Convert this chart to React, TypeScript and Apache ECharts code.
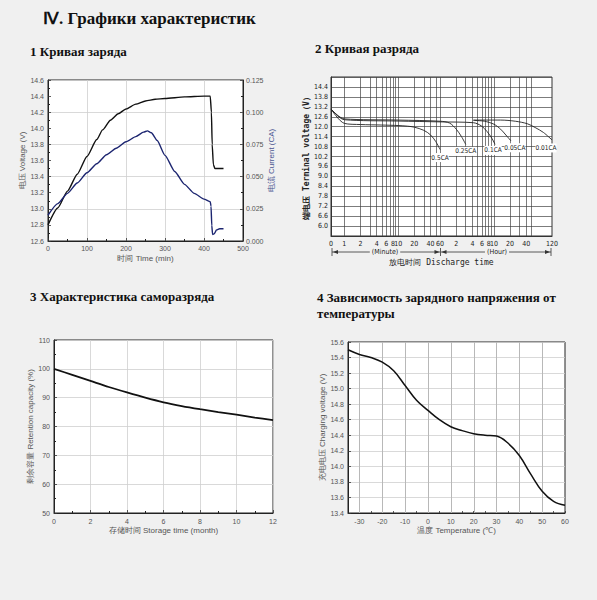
import { useEffect, useRef } from "react";
import * as echarts from "echarts";

// ---------- Chart 1: charge curve ----------
const chargeVoltage: [number, number][] = [
  [0, 12.8], [25, 13.01], [50, 13.22], [75, 13.43], [100, 13.65], [125, 13.86], [140, 13.98],
  [160, 14.1], [180, 14.18], [200, 14.24], [225, 14.3], [250, 14.34], [275, 14.36], [300, 14.37],
  [350, 14.39], [400, 14.4], [416, 14.4], [419, 14.2], [421, 13.8], [424, 13.55], [428, 13.5], [450, 13.5],
];
const chargeCurrent: [number, number][] = [
  [0, 0.02], [25, 0.029], [50, 0.037], [75, 0.045], [100, 0.053], [125, 0.06], [150, 0.067],
  [175, 0.072], [200, 0.077], [225, 0.081], [245, 0.0845], [255, 0.0855], [265, 0.084], [280, 0.078],
  [300, 0.0665], [325, 0.054], [350, 0.044], [375, 0.037], [400, 0.0325], [416, 0.0305], [418, 0.027],
  [420, 0.012], [422, 0.005], [426, 0.0055], [432, 0.0085], [440, 0.0095], [450, 0.0095],
];

// ---------- Chart 2: discharge curves (time in minutes) ----------
const dischargeRates = ["0.5CA", "0.25CA", "0.1CA", "0.05CA", "0.01CA"];
const discharge05: [number, number][] = [
  [0.566, 13.07], [1, 12.2], [2, 12.13], [5, 12.1], [10, 12.07], [15, 12.03], [20, 11.97],
  [30, 11.78], [40, 11.5], [50, 11.1], [60, 10.62],
];
const discharge025: [number, number][] = [
  [0.566, 13.07], [1, 12.47], [10, 12.4], [60, 12.33], [90, 12.22], [120, 11.85], [150, 11.4], [180, 10.93],
];
const discharge01: [number, number][] = [
  [0.566, 13.07], [1, 12.42], [10, 12.34], [60, 12.29], [250, 12.24], [350, 12.05], [450, 11.7],
  [550, 11.3], [630, 10.93],
];
const discharge005: [number, number][] = [
  [250, 12.38], [400, 12.33], [600, 12.15], [800, 11.85], [1000, 11.5], [1240, 11.15],
];
const discharge001: [number, number][] = [
  [250, 12.4], [800, 12.4], [1500, 12.33], [2500, 12.18], [3500, 11.95], [5000, 11.65], [7200, 11.2],
];
const dischargeSeries = [discharge05, discharge025, discharge01, discharge005, discharge001];
const dischargeGridMinutes = [
  1, 2, 3, 4, 5, 6, 7, 8, 9, 10, 20, 30, 40, 50, 60,
  120, 180, 240, 300, 360, 420, 480, 540, 600, 1200, 1800, 2400, 3000,
];
const dischargeLabelMinutes = [0.566, 1, 2, 4, 6, 8, 10, 20, 40, 60, 120, 240, 360, 480, 600, 1200, 2400, 7200];

// ---------- Chart 3: self-discharge ----------
const storageMonths = [0, 1, 2, 3, 4, 5, 6, 7, 8, 9, 10, 11, 12];
const retentionCapacity = [100, 97.9, 95.8, 93.7, 91.8, 90.0, 88.4, 87.1, 86.0, 85.0, 84.1, 83.1, 82.2];

// ---------- Chart 4: charging voltage vs temperature ----------
const temperatures = [-35, -30, -25, -20, -15, -10, -5, 0, 5, 10, 15, 20, 25, 30, 35, 40, 45, 50, 55, 60];
const chargingVoltage = [
  15.5, 15.44, 15.4, 15.34, 15.23, 15.04, 14.85, 14.72, 14.6, 14.51, 14.46, 14.42, 14.4, 14.39,
  14.3, 14.14, 13.9, 13.68, 13.55, 13.5,
];
const temperatureGridLines = [-30, -20, -10, 0, 10, 20, 30, 40, 50];
const voltageMin = 13.4;
const voltageMax = 15.6;

const SANS = '"Liberation Sans", Arial, sans-serif';
const NARROW = '"DejaVu Sans Condensed", "Liberation Sans Narrow", "DejaVu Sans", sans-serif';
const SERIF = '"Liberation Serif", "Times New Roman", serif';
const BG = "#f0f0f0";

const lbl = { fontFamily: SANS, fontSize: 7, color: "#555" };
const nameStyle = { fontFamily: SANS, fontSize: 8, color: "#555" };
const tickStyle = { inside: true, length: 3, lineStyle: { color: "#333", width: 0.8 } };
const lightSplit = { show: true, lineStyle: { color: "#cfcfcf", width: 0.8 } };
const boxLine = { show: true, onZero: false, lineStyle: { color: "#222", width: 1 } };

export default function App() {
  const ref = useRef<HTMLDivElement>(null);
  useEffect(() => {
    if (!ref.current) return;
    const chart = echarts.init(ref.current, undefined, { renderer: "svg" });
    const title = (text: string, x: number, y: number, size = 13) => ({
      type: "text",
      left: x,
      top: y,
      style: { text, font: `bold ${size}px ${SERIF}`, fill: "#111" },
    });
    const hline = (x1: number, x2: number, y: number) => ({
      type: "line",
      shape: { x1, y1: y, x2, y2: y },
      style: { stroke: "#333", lineWidth: 0.8 },
    });
    const vline = (x: number, y: number) => ({
      type: "line",
      shape: { x1: x, y1: y - 4, x2: x, y2: y + 4 },
      style: { stroke: "#333", lineWidth: 0.8 },
    });
    const arrow = (x: number, y: number, dir: number) => ({
      type: "polygon",
      shape: { points: [[x, y], [x + 5 * dir, y - 2], [x + 5 * dir, y + 2]] },
      style: { fill: "#333" },
    });
    const ay = 252;

    const dischargeLabelOffsets: [number, number][] = [[0, 3], [0, 2], [-2, 1], [4, 2], [-6, 3]];

    chart.setOption({
      animation: false,
      backgroundColor: BG,
      textStyle: { fontFamily: SANS },
      grid: [
        { left: 48, top: 80, width: 195, height: 161, show: true, backgroundColor: "#fff", borderColor: "#222", borderWidth: 1, outerBoundsMode: "none" },
        { left: 331, top: 77, width: 221, height: 159, show: true, backgroundColor: "#fff", borderColor: "#333", borderWidth: 1, outerBoundsMode: "none" },
        { left: 54, top: 340, width: 219, height: 173, show: true, backgroundColor: "#fff", borderColor: "#222", borderWidth: 1, outerBoundsMode: "none" },
        { left: 348, top: 342, width: 217, height: 171, show: true, backgroundColor: "#fff", borderColor: "#222", borderWidth: 1, outerBoundsMode: "none" },
      ],
      xAxis: [
        {
          gridIndex: 0, type: "value", min: 0, max: 500, interval: 100,
          axisLine: boxLine, axisTick: tickStyle, minorTick: { show: true, splitNumber: 2, length: 2 },
          axisLabel: { ...lbl, margin: 4 }, splitLine: lightSplit,
          name: "时间 Time (min)", nameLocation: "middle", nameGap: 13, nameTextStyle: nameStyle,
        },
        {
          gridIndex: 1, type: "log", logBase: 10, min: 0.566, max: 7200,
          axisLine: { show: true, onZero: false, lineStyle: { color: "#333", width: 1 } },
          axisTick: { show: false, customValues: dischargeGridMinutes },
          axisLabel: {
            customValues: dischargeLabelMinutes,
            fontFamily: NARROW, fontSize: 7, color: "#222", margin: 4,
            formatter: (v: number) => (v < 0.9 ? "0" : v <= 60 ? String(Math.round(v)) : String(Math.round(v / 60))),
          },
          splitLine: { show: true, lineStyle: { color: "#444", width: 0.7 } },
          name: "放电时间 Discharge time", nameLocation: "middle", nameGap: 22,
          nameTextStyle: { fontFamily: '"DejaVu Sans Mono", monospace', fontSize: 8, color: "#222" },
        },
        {
          gridIndex: 2, type: "value", min: 0, max: 12, interval: 2,
          axisLine: boxLine, axisTick: tickStyle, minorTick: { show: true, splitNumber: 2, length: 2 },
          axisLabel: { ...lbl, margin: 5 }, splitLine: lightSplit,
          name: "存储时间 Storage time (month)", nameLocation: "middle", nameGap: 13, nameTextStyle: nameStyle,
        },
        {
          gridIndex: 3, type: "value", min: -35, max: 60, interval: 5,
          axisLine: boxLine,
          axisTick: { ...tickStyle, length: 2 },
          axisLabel: {
            ...lbl, margin: 5, showMinLabel: false,
            formatter: (v: number) => (Math.round(v) % 10 === 0 ? String(Math.round(v)) : ""),
          },
          splitLine: { show: false },
          name: "温度 Temperature (℃)", nameLocation: "middle", nameGap: 13, nameTextStyle: nameStyle,
        },
      ],
      yAxis: [
        {
          gridIndex: 0, type: "value", min: 12.6, max: 14.6, interval: 0.2,
          axisLine: boxLine, axisTick: tickStyle, minorTick: { show: true, splitNumber: 2, length: 2 },
          axisLabel: { ...lbl, margin: 4, formatter: (v: number) => v.toFixed(1) }, splitLine: { show: false },
          name: "电压 Voltage (V)", nameLocation: "middle", nameRotate: 90, nameGap: 17, nameTextStyle: nameStyle,
        },
        {
          gridIndex: 0, type: "value", position: "right", min: 0, max: 0.125, interval: 0.025,
          axisLine: boxLine, axisTick: tickStyle, minorTick: { show: true, splitNumber: 2, length: 2 },
          axisLabel: { ...lbl, margin: 3, formatter: (v: number) => v.toFixed(3) }, splitLine: lightSplit,
          name: "电流 Current (CA)", nameLocation: "middle", nameRotate: 90, nameGap: 20,
          nameTextStyle: { ...nameStyle, color: "#4a5590" },
        },
        {
          gridIndex: 1, type: "value", min: 5.4, max: 15.0, interval: 0.6,
          axisLine: { show: true, onZero: false, lineStyle: { color: "#333", width: 1 } }, axisTick: { show: false },
          axisLabel: {
            fontFamily: NARROW, fontSize: 7, color: "#222", margin: 3,
            showMinLabel: false, showMaxLabel: false, formatter: (v: number) => v.toFixed(1),
          },
          splitLine: { show: true, lineStyle: { color: "#444", width: 0.7 } },
          name: "端电压 Terminal voltage（V）", nameLocation: "middle", nameRotate: 90, nameGap: 14,
          nameTextStyle: { fontFamily: '"DejaVu Sans Mono", monospace', fontSize: 8, color: "#222", fontWeight: "bold" },
        },
        {
          gridIndex: 2, type: "value", min: 50, max: 110, interval: 10,
          axisLine: boxLine, axisTick: tickStyle, minorTick: { show: true, splitNumber: 2, length: 2 },
          axisLabel: { ...lbl, margin: 4 }, splitLine: lightSplit,
          name: "剩余容量 Retention capacity (%)", nameLocation: "middle", nameRotate: 90, nameGap: 15, nameTextStyle: nameStyle,
        },
        {
          gridIndex: 3, type: "value", min: voltageMin, max: voltageMax, interval: 0.2,
          axisLine: boxLine, axisTick: tickStyle,
          axisLabel: { ...lbl, margin: 4, formatter: (v: number) => v.toFixed(1) }, splitLine: lightSplit,
          name: "充电电压 Charging voltage (V)", nameLocation: "middle", nameRotate: 90, nameGap: 19, nameTextStyle: nameStyle,
        },
      ],
      series: [
        {
          type: "line", xAxisIndex: 0, yAxisIndex: 0, data: chargeVoltage, symbol: "none",
          smooth: 0.2, smoothMonotone: "x", lineStyle: { color: "#111", width: 1.4 },
        },
        {
          type: "line", xAxisIndex: 0, yAxisIndex: 1, data: chargeCurrent, symbol: "none",
          smooth: 0.2, smoothMonotone: "x", lineStyle: { color: "#1c2570", width: 1.4 },
        },
        ...dischargeSeries.map((pts, i) => ({
          type: "line", name: dischargeRates[i], xAxisIndex: 1, yAxisIndex: 2, data: pts, symbol: "none",
          smooth: 0.3, lineStyle: { color: "#222", width: 0.9 },
          markPoint: {
            symbol: "circle", symbolSize: 1, itemStyle: { color: "rgba(0,0,0,0)" },
            label: {
              show: true, position: "bottom", distance: dischargeLabelOffsets[i][1], offset: [dischargeLabelOffsets[i][0], 0],
              formatter: dischargeRates[i], fontFamily: NARROW, fontSize: 6.5, color: "#222",
              backgroundColor: "#fff", padding: [1, 0],
            },
            data: [{ coord: pts[pts.length - 1] }],
          },
        })),
        {
          type: "line", xAxisIndex: 2, yAxisIndex: 3, data: storageMonths.map((m, i) => [m, retentionCapacity[i]]),
          symbol: "none", smooth: 0.3, lineStyle: { color: "#111", width: 1.8 },
        },
        {
          // vertical grid lines of the temperature chart, placed through the axis scale
          type: "custom", xAxisIndex: 3, yAxisIndex: 4, z: 1, silent: true, clip: false,
          data: temperatureGridLines.map((t) => [t, voltageMin]),
          encode: { x: 0, y: 1 },
          renderItem: (_params: any, api: any) => {
            const p1 = api.coord([api.value(0), voltageMin]);
            const p2 = api.coord([api.value(0), voltageMax]);
            const x = Math.round(p1[0]) + 0.5;
            return {
              type: "line",
              shape: { x1: x, y1: p1[1], x2: x, y2: p2[1] },
              style: { stroke: "#b8b8b8", lineWidth: 1 },
            };
          },
        },
        {
          type: "line", xAxisIndex: 3, yAxisIndex: 4, data: temperatures.map((t, i) => [t, chargingVoltage[i]]),
          symbol: "none", smooth: 0.4, lineStyle: { color: "#111", width: 1.5 }, z: 3,
        },
      ],
      graphic: [
        { type: "text", left: 43, top: 10, style: { text: "Ⅳ. Графики характеристик", font: `bold 17px ${SERIF}`, fill: "#111" } },
        title("1 Кривая заряда", 30, 45),
        title("2 Кривая разряда", 315, 42),
        title("3 Характеристика саморазряда", 30, 290),
        title("4 Зависимость зарядного напряжения от", 317, 291),
        title("температуры", 317, 307),
        hline(332, 440, ay),
        hline(441, 551, ay),
        vline(332, ay), vline(440.5, ay), vline(551, ay),
        arrow(333, ay, 1), arrow(439.5, ay, -1), arrow(441.5, ay, 1), arrow(550, ay, -1),
        {
          type: "text", x: 385, y: ay,
          style: { text: "(Minute)", font: `7px ${NARROW}`, fill: "#222", align: "center", verticalAlign: "middle", backgroundColor: BG, padding: [0, 2] },
        },
        {
          type: "text", x: 497, y: ay,
          style: { text: "(Hour)", font: `7px ${NARROW}`, fill: "#222", align: "center", verticalAlign: "middle", backgroundColor: BG, padding: [0, 2] },
        },
      ],
    });
    return () => chart.dispose();
  }, []);
  return <div ref={ref} style={{ position: "fixed", left: 0, top: 0, width: 597, height: 600 }} />;
}
